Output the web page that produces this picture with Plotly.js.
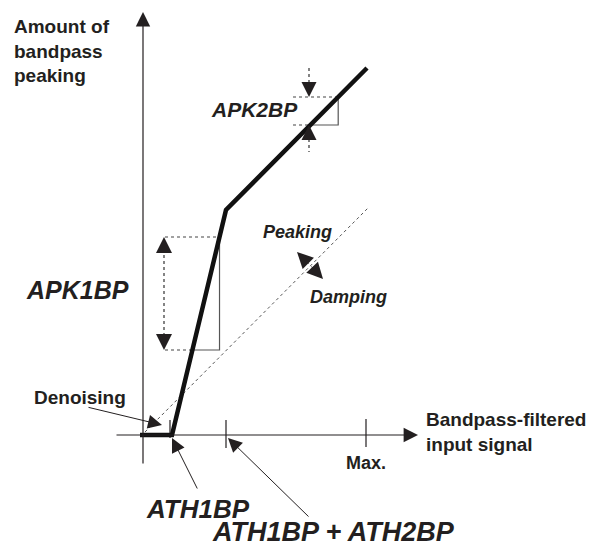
<!DOCTYPE html>
<html>
<head>
<meta charset="utf-8">
<script src="https://cdn.plot.ly/plotly-3.0.1.min.js"></script>
<style>
  html, body { margin: 0; padding: 0; background: #fff; }
  #plot { width: 593px; height: 549px; }
</style>
</head>
<body>
<div id="plot"></div>
<script>
// characteristic curve: input signal -> amount of peaking
var curveX = [-3, 29, 83, 224];
var curveY = [0, 0, 225, 367];

// dotted unity line (peaking / damping border)
var diagX = [2, 225];
var diagY = [3, 227];

// marks on the input axis
var markX = [27, 83, 223];
var markLo = [-3, -13, -12];
var markHi = [15, 15, 16];

// APK steps: [low, high] levels and left edge of the guide box
var apk1Levels = [85, 198];
var apk2Levels = [310, 338];
var apkLeft = [22, 150];

var ink = '#231f20';
var FONT = 'Liberation Sans, Arial, Helvetica, sans-serif';

// x of curve for a given y (on the rising part)
function curveAt(y) {
    for (var i = 1; i < curveX.length; i++) {
        if (curveY[i] > curveY[i - 1] && y >= curveY[i - 1] && y <= curveY[i]) {
            var t = (y - curveY[i - 1]) / (curveY[i] - curveY[i - 1]);
            return curveX[i - 1] + t * (curveX[i] - curveX[i - 1]);
        }
    }
    return curveX[curveX.length - 1];
}

var traces = [];

// ticks
var tx = [], ty = [];
markX.forEach(function (x, i) {
    tx.push(x, x, null);
    ty.push(markLo[i], markHi[i], null);
});
traces.push({ x: tx, y: ty, mode: 'lines', line: { color: ink, width: 1.2 }, hoverinfo: 'skip' });

// dotted diagonal
traces.push({ x: diagX, y: diagY, mode: 'lines', line: { color: '#555', width: 1, dash: 'dot' }, hoverinfo: 'skip' });

// guide boxes
function boxLines(levels, left) {
    var lo = levels[0], hi = levels[1];
    var xTop = curveAt(hi), xBot = curveAt(lo);
    return {
        dotted: { x: [left, xTop, null, left, xBot], y: [hi, hi, null, lo, lo] },
        solid: { x: [xTop, xTop, xBot], y: [hi, lo, lo] }
    };
}
var b1 = boxLines(apk1Levels, apkLeft[0]);
var b2 = boxLines(apk2Levels, apkLeft[1]);
[b1, b2].forEach(function (b) {
    traces.push({ x: b.dotted.x, y: b.dotted.y, mode: 'lines', line: { color: '#444', width: 1.2, dash: 'dot' }, hoverinfo: 'skip' });
    traces.push({ x: b.solid.x, y: b.solid.y, mode: 'lines', line: { color: '#555', width: 1.2 }, hoverinfo: 'skip' });
});

// dotted arrow shafts
var a1x = apkLeft[0] - 1;
var a2x = apkLeft[1] + 16;
traces.push({
    x: [a1x, a1x, null, a2x, a2x, null, a2x, a2x],
    y: [apk1Levels[0] + 14, apk1Levels[1] - 14, null,
        apk2Levels[1] + 29, apk2Levels[1] + 14, null,
        apk2Levels[0] - 14, apk2Levels[0] - 27],
    mode: 'lines', line: { color: '#333', width: 1.2, dash: 'dot' }, hoverinfo: 'skip'
});

// main curve
traces.push({ x: curveX, y: curveY, mode: 'lines', line: { color: '#111', width: 4.5 }, hoverinfo: 'skip' });

function arrow(hx, hy, tx, ty, opts) {
    var a = {
        x: hx, y: hy, ax: tx, ay: ty, axref: 'x', ayref: 'y', xref: 'x', yref: 'y',
        text: '', showarrow: true, arrowhead: 2, arrowsize: 3, arrowwidth: 1,
        arrowcolor: ink, standoff: 0
    };
    for (var k in opts) a[k] = opts[k];
    return a;
}

function label(txt, x, y, size, opts) {
    var a = {
        x: x, y: y, xref: 'x', yref: 'y', text: txt, showarrow: false,
        font: { family: FONT, size: size, color: ink }
    };
    for (var k in opts) a[k] = opts[k];
    return a;
}

var annotations = [
    // axes
    arrow(0, 423, 0, -30, { arrowsize: 2.4, arrowwidth: 1.2 }),
    arrow(275, 0, -28, 0, { arrowsize: 2.4, arrowwidth: 1.2 }),
    // APK arrowheads
    arrow(a1x, apk1Levels[1], a1x, apk1Levels[1] - 15, { arrowsize: 3.2 }),
    arrow(a1x, apk1Levels[0], a1x, apk1Levels[0] + 15, { arrowsize: 3.2 }),
    arrow(a2x, apk2Levels[1], a2x, apk2Levels[1] + 15, { arrowsize: 3 }),
    arrow(a2x, apk2Levels[0], a2x, apk2Levels[0] - 15, { arrowsize: 3 }),
    // peaking / damping (two heads pointing outward)
    arrow(154, 183, 167, 170, { arrowsize: 3.2 }),
    arrow(180, 156, 167, 170, { arrowsize: 3.2 }),
    // pointers
    arrow(19, 10, -56, 28, { arrowsize: 2.8 }),
    arrow(29, -3, 55, -55, { arrowsize: 2.8 }),
    arrow(85, -3, 167, -83, { arrowsize: 2.8 }),
    // texts
    label('<b>Amount of<br>bandpass<br>peaking</b>', -131, 421, 19, { xanchor: 'left', yanchor: 'top', align: 'left' }),
    label('<b>Bandpass-filtered<br>input signal</b>', 281, 3, 19, { xanchor: 'left', yanchor: 'middle', align: 'left' }),
    label('<b>Max.</b>', 223, -28, 18),
    label('<b>Denoising</b>', -111, 38, 19, { xanchor: 'left' }),
    label('<b><i>APK1BP</i></b>', -66, 145, 25),
    label('<b><i>APK2BP</i></b>', 111, 326, 21),
    label('<b><i>Peaking</i></b>', 154, 203, 18),
    label('<b><i>Damping</i></b>', 205, 138, 18),
    label('<b><i>ATH1BP</i></b>', 55, -74, 26),
    label('<b><i>ATH1BP + ATH2BP</i></b>', 190, -97, 27)
];

var layout = {
    width: 593, height: 549,
    margin: { l: 0, r: 0, t: 0, b: 0, pad: 0 },
    paper_bgcolor: '#fff', plot_bgcolor: '#fff',
    showlegend: false,
    xaxis: { range: [-143, 450], visible: false, fixedrange: true },
    yaxis: { range: [-114, 435], visible: false, fixedrange: true },
    annotations: annotations,
    hovermode: false
};

Plotly.newPlot('plot', traces, layout, { displayModeBar: false, staticPlot: true });
</script>
</body>
</html>
